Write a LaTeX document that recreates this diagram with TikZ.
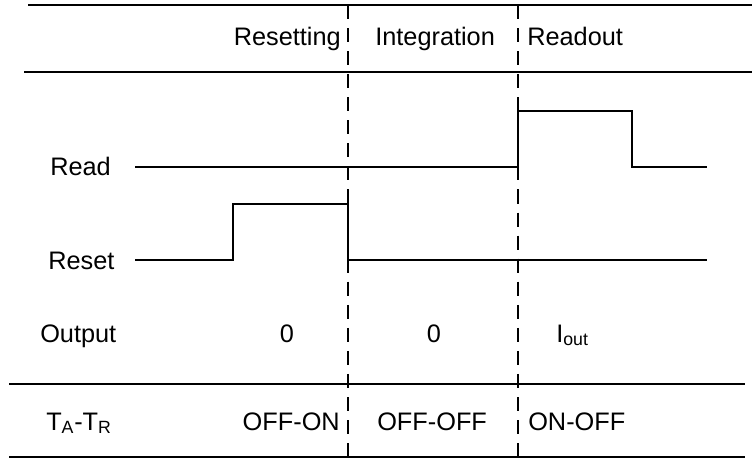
\documentclass[tikz,border=0pt]{standalone}
\usepackage{fontspec}
\setmainfont{Liberation Sans}
\usetikzlibrary{positioning}

\begin{document}
\begin{tikzpicture}[x=0.025cm, y=-0.025cm,
    every node/.style={font=\fontsize{18}{21}\selectfont, inner sep=0pt},
    rule/.style={line width=1.2pt},
    signal/.style={line width=0.9pt},
    phase/.style={line width=0.9pt, dash pattern=on 10pt off 6.4pt}]
  \useasboundingbox (0,0) rectangle (752,460);

  % Table rules
  \draw[rule] (28,5) -- (752,5);
  \draw[rule] (24,72) -- (752,72);
  \draw[rule] (9,384) -- (745,384);
  \draw[rule] (9,457) -- (745,457);

  % Phase boundaries
  \foreach \x in {348, 518} {
    \draw[phase] (\x,5) -- (\x,457);
  }

  % Header
  \node[anchor=base east] (resetting) at (341,45) {Resetting};
  \node[anchor=base west] (integration) at (375,45) {Integration};
  \node[anchor=base west] (readout) at (527,45) {Readout};

  % Row labels
  \node[anchor=base west] (read) at (50,175) {Read};
  \node[anchor=base west] (reset) at (48,269) {Reset};
  \node[anchor=base west] (output) at (40,342) {Output};
  \node[anchor=base west] (switches) at (46,430) {T\textsubscript{A}-T\textsubscript{R}};

  % Read waveform
  \draw[signal] (135,167) -- (518,167) -- (518,111) -- (632,111) -- (632,167) -- (707,167);

  % Reset waveform
  \draw[signal] (135,260) -- (233,260) -- (233,204) -- (348,204) -- (348,260) -- (707,260);

  % Output values
  \node[anchor=base] (outreset) at (287,342) {0};
  \node[anchor=base] (outint) at (434,342) {0};
  \node[anchor=base west] (outread) at (556,342) {I\textsubscript{out}};

  % Switch states
  \node[anchor=base east] (swreset) at (340,430) {OFF-ON};
  \node[anchor=base west] (swint) at (377,430) {OFF-OFF};
  \node[anchor=base west] (swread) at (528,430) {ON-OFF};
\end{tikzpicture}
\end{document}
